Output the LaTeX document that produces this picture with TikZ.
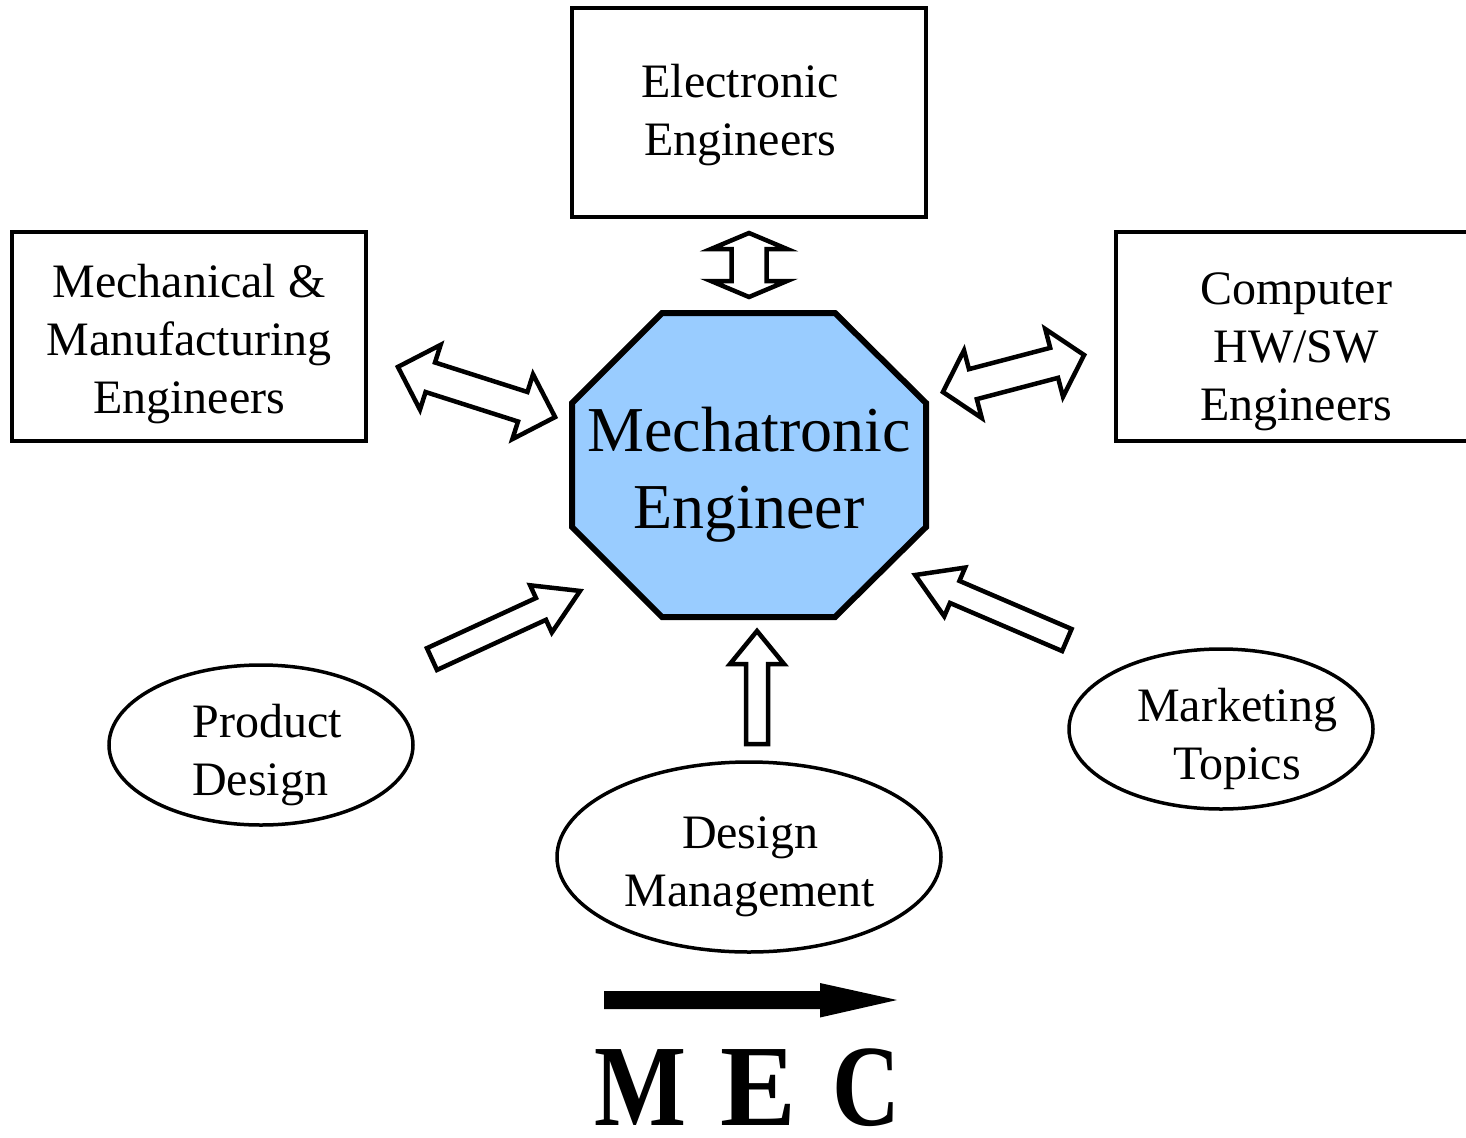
\documentclass[tikz,border=0pt]{standalone}
\usepackage{fontspec}
\setmainfont{Liberation Serif}
\usetikzlibrary{shapes.geometric}
\definecolor{octblue}{RGB}{153,204,255}
\begin{document}
\begin{tikzpicture}[x=1pt,y=-1pt,
  box/.style={draw, line width=4pt, minimum width=354pt, minimum height=209pt, inner sep=0pt},
  oval/.style={draw, ellipse, line width=3.5pt, inner sep=0pt},
  lbl/.style={align=center, font=\fontsize{48}{58}\selectfont, inner sep=0pt},
  barrow/.style={draw, line width=4.5pt, fill=white, line join=miter},
  mecfont/.style={font=\fontsize{116}{116}\selectfont\bfseries, inner sep=0pt, anchor=base, text depth=0pt},
  pics/dblarrow/.style n args={4}{code={
    \draw[barrow] (-#1/2,0) -- (-#1/2+#4,#3) -- (-#1/2+#4,#2) -- (#1/2-#4,#2) -- (#1/2-#4,#3)
      -- (#1/2,0) -- (#1/2-#4,-#3) -- (#1/2-#4,-#2) -- (-#1/2+#4,-#2) -- (-#1/2+#4,-#3) -- cycle;}},
  pics/sglarrow/.style n args={4}{code={
    \draw[barrow] (-#1/2,#2) -- (#1/2-#4,#2) -- (#1/2-#4,#3) -- (#1/2,0)
      -- (#1/2-#4,-#3) -- (#1/2-#4,-#2) -- (-#1/2,-#2) -- cycle;}}]
\useasboundingbox (0,0) rectangle (1466,1137);

% boxes
\node[box] (elec) at (749,112.5) {};
\node[lbl] (elect) at (740,115) {Electronic\\Engineers};
\node[box] (mechb) at (189,336.5) {};
\node[lbl] (mecht) at (189,344) {Mechanical \&\\Manufacturing\\Engineers};
\node[box, minimum width=360pt] (comp) at (1296,336.5) {};
\node[lbl] (compt) at (1296,352) {Computer\\HW/SW\\Engineers};

% octagon
\coordinate (o1) at (662,313);
\coordinate (o2) at (835,313);
\coordinate (o3) at (926,403);
\coordinate (o4) at (926,527);
\coordinate (o5) at (835,617);
\coordinate (o6) at (662,617);
\coordinate (o7) at (572,527);
\coordinate (o8) at (572,403);
\draw[line width=6pt, fill=octblue, line join=miter] (o1) -- (o2) -- (o3) -- (o4) -- (o5) -- (o6) -- (o7) -- (o8) -- cycle;
\node[align=center, font=\fontsize{64}{77}\selectfont, inner sep=0pt] (mecha) at (749,475) {Mechatronic\\Engineer};

% ellipses
\node[oval, minimum width=304pt, minimum height=160pt] (prod) at (261,745) {};
\node[lbl, align=left] (prodt) at (267,755) {Product\\Design};
\node[oval, minimum width=384pt, minimum height=190pt] (dm) at (749,857) {};
\node[lbl] (dmt) at (750,867) {Design\\Management};
\node[oval, minimum width=304pt, minimum height=160pt] (mkt) at (1221,729) {};
\node[lbl] (mktt) at (1237,739) {Marketing\\Topics};

% block arrows
\pic[rotate=90] at (749,265) {dblarrow={64}{17.5}{38}{16}};
\pic[rotate=-17.7] at (476.5,392) {dblarrow={165}{15.5}{34}{34}};
\pic[rotate=14.7] at (1013.5,373.5) {dblarrow={146}{15.5}{35}{31}};
\pic[rotate=24.7] at (506,625) {sglarrow={163}{12}{26}{43}};
\pic[rotate=156.8] at (991,607.5) {sglarrow={165}{12}{26.5}{43}};
\pic[rotate=90] at (757,687.5) {sglarrow={113}{11}{27}{33}};

% bottom arrow
\coordinate (a1) at (604,1000);
\coordinate (a2) at (897,1000);
\fill (a1) ++(0,-9) -- ++(216,0) -- ++(0,-8) -- (a2) -- ++(-77,17.5) -- ++(0,-8.5) -- ++(-216,0) -- cycle;

% MEC
\node[mecfont, xscale=0.84] (mecM) at (640,1125) {M};
\node[mecfont, xscale=0.98] (mecE) at (758.5,1125) {E};
\node[mecfont, xscale=0.81] (mecC) at (866,1125) {C};
\end{tikzpicture}
\end{document}
